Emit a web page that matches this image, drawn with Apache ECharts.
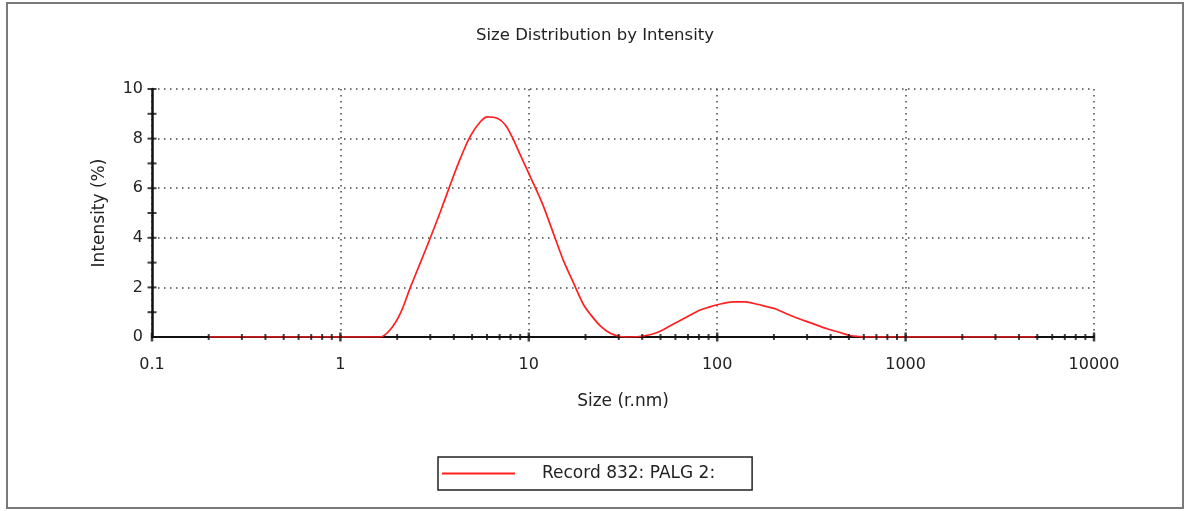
<!DOCTYPE html>
<html>
<head>
<meta charset="utf-8">
<script src="https://cdn.jsdelivr.net/npm/echarts@6/dist/echarts.min.js"></script>
<style>
html,body{margin:0;padding:0;background:#fff;}
#chart{width:1190px;height:511px;}
</style>
</head>
<body>
<div id="chart"></div>
<script>
// ---- data ----
const sizes = [0.2, 0.5, 1.0, 1.630, 1.842, 2.081, 2.351, 2.658, 3.002, 3.393, 3.834, 4.332, 4.895, 5.530, 6.025, 6.806, 7.506, 8.177, 9.013, 10.19, 11.79, 13.49, 15.24, 17.22, 19.46, 21.20, 23.95, 27.06, 30.58, 34.55, 40.51, 48.06, 56.33, 69.31, 81.25, 88.51, 100, 121.6, 140.8, 155.2, 184.2, 203.1, 244.0, 300.3, 383.3, 449.2, 507.6, 559.8, 617.3, 1000, 2000, 4860];
const intensity = [0, 0, 0, 0, 0.3, 0.95, 2.0, 3.0, 4.0, 5.05, 6.15, 7.2, 8.1, 8.68, 8.88, 8.82, 8.55, 8.05, 7.34, 6.46, 5.39, 4.19, 3.1, 2.2, 1.32, 0.92, 0.45, 0.15, 0.02, 0, 0.04, 0.18, 0.45, 0.82, 1.09, 1.18, 1.3, 1.42, 1.42, 1.36, 1.22, 1.14, 0.88, 0.62, 0.33, 0.18, 0.06, 0.02, 0, 0, 0, 0];
const seriesName = 'Record 832: PALG 2:';
const titleText = 'Size Distribution by Intensity';
const xAxisName = 'Size (r.nm)';
const yAxisName = 'Intensity (%)';
const decades = [0.1, 1, 10, 100, 1000, 10000];
const minorMultipliers = [2, 3, 4, 5, 6, 7, 8, 9];
const yTickValues = [1, 2, 3, 4, 5, 6, 7, 8, 9, 10];

// ---- build ----
const lineData = sizes.map((s, i) => [s, intensity[i]]);
const xMinorTicks = [];
decades.slice(0, -1).forEach(d => minorMultipliers.forEach(m => xMinorTicks.push([+(d * m).toPrecision(6), 0])));
const xMajorTicks = decades.map(d => [d, 0]);
const yTicks = yTickValues.map(v => [0.1, v]);

const FONT = 'DejaVu Sans';
const chart = echarts.init(document.getElementById('chart'), null, {renderer: 'canvas'});
chart.setOption({
  animation: false,
  backgroundColor: '#fff',
  textStyle: {fontFamily: FONT, color: '#222'},
  title: {
    text: titleText, left: 'center', top: 22,
    textStyle: {fontFamily: FONT, fontSize: 16.5, fontWeight: 'normal', color: '#222'}
  },
  grid: {left: 152, right: 96, top: 89, bottom: 174, containLabel: false},
  legend: {
    data: [seriesName],
    left: 438, top: 457,
    orient: 'horizontal',
    icon: 'rect',
    borderColor: '#222', borderWidth: 1.5, borderRadius: 0,
    padding: [8, 37, 8, 4],
    itemWidth: 73, itemHeight: 2,
    textStyle: {fontFamily: FONT, fontSize: 17, color: '#222', padding: [0, 0, 0, 22]}
  },
  graphic: [{
    type: 'rect', silent: true, z: 100,
    shape: {x: 7, y: 3, width: 1176, height: 505},
    style: {fill: 'none', stroke: '#7a7a7a', lineWidth: 2}
  }],
  xAxis: {
    type: 'log', logBase: 10, min: 0.1, max: 10000,
    name: xAxisName, nameLocation: 'middle', nameGap: 56,
    nameTextStyle: {fontFamily: FONT, fontSize: 17, color: '#222'},
    axisLine: {show: true, onZero: false, lineStyle: {color: '#111', width: 2}},
    axisTick: {show: false},
    axisLabel: {fontFamily: FONT, fontSize: 16, color: '#222', margin: 20,
      formatter: v => String(+v.toPrecision(6))},
    splitLine: {show: true, lineStyle: {color: '#444', width: 1.5, type: [1.5, 4.5]}}
  },
  yAxis: {
    type: 'value', min: 0, max: 10, interval: 2,
    name: yAxisName, nameLocation: 'middle', nameGap: 44,
    nameTextStyle: {fontFamily: FONT, fontSize: 17, color: '#222'},
    axisLine: {show: true, lineStyle: {color: '#111', width: 2.5}},
    axisTick: {show: false},
    axisLabel: {fontFamily: FONT, fontSize: 16, color: '#222', margin: 9},
    splitLine: {show: true, lineStyle: {color: '#444', width: 1.5, type: [1.5, 4.5]}}
  },
  series: [
    {
      name: seriesName, type: 'line', data: lineData,
      symbol: 'none', smooth: 0.3, z: 3,
      lineStyle: {color: '#ff2020', width: 1.7},
      itemStyle: {color: '#ff2020'}
    },
    {
      type: 'scatter', data: xMinorTicks, symbol: 'rect', symbolSize: [2, 6],
      itemStyle: {color: '#111'}, silent: true, clip: false, z: 4
    },
    {
      type: 'scatter', data: xMajorTicks, symbol: 'rect', symbolSize: [2.5, 9],
      itemStyle: {color: '#111'}, silent: true, clip: false, z: 4
    },
    {
      type: 'scatter', data: yTicks, symbol: 'rect', symbolSize: [9, 2],
      itemStyle: {color: '#111'}, silent: true, clip: false, z: 4
    }
  ]
});
</script>
</body>
</html>
